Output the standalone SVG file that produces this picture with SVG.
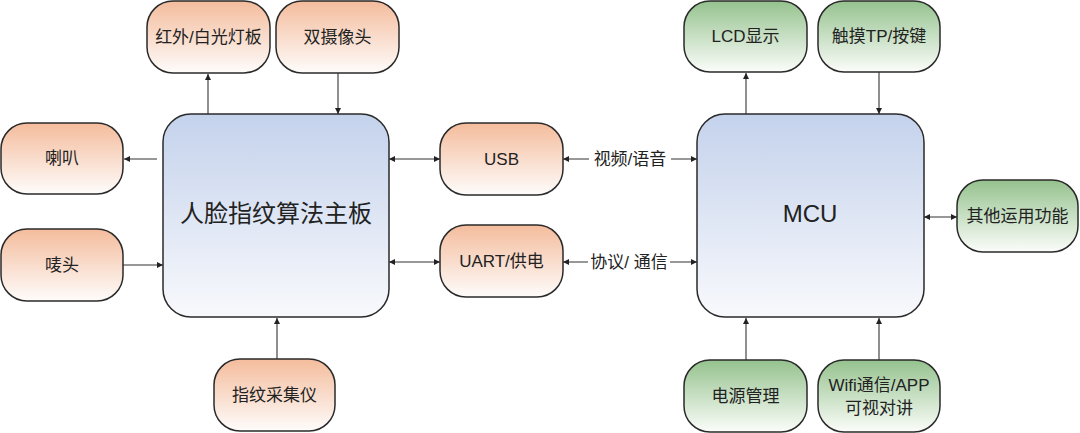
<svg xmlns="http://www.w3.org/2000/svg" width="1080" height="433" viewBox="0 0 1080 433">
<defs>
<linearGradient id="gOrange" x1="0" y1="0" x2="0" y2="1">
<stop offset="0" stop-color="#f4bc9c"/>
<stop offset="1" stop-color="#fefcfb"/>
</linearGradient>
<linearGradient id="gGreen" x1="0" y1="0" x2="0" y2="1">
<stop offset="0" stop-color="#95c28e"/>
<stop offset="1" stop-color="#fbfdfa"/>
</linearGradient>
<linearGradient id="gBlue" x1="0" y1="0" x2="0" y2="1">
<stop offset="0" stop-color="#c4d2ec"/>
<stop offset="1" stop-color="#f8f9fc"/>
</linearGradient>
<marker id="arr" viewBox="0 0 10 10" refX="10" refY="5" markerWidth="6" markerHeight="6" markerUnits="userSpaceOnUse" orient="auto-start-reverse">
<path d="M0,0 L10,5 L0,10 z" fill="#222"/>
</marker>
</defs>
<style>
.node{stroke:#2a2a2a;stroke-width:1.5}
.o{fill:url(#gOrange)}
.g{fill:url(#gGreen)}
.b{fill:url(#gBlue)}
text{font-family:"Liberation Sans","Noto Sans CJK SC",sans-serif;fill:#222;text-anchor:middle;dominant-baseline:central}
.t{font-size:17px}
.big{font-size:24px}
.lbl{font-size:17px}
.c{stroke:#333;stroke-width:1.1;fill:none}
.one{marker-end:url(#arr)}
.two{marker-start:url(#arr);marker-end:url(#arr)}
</style>
<rect width="1080" height="433" fill="#ffffff"/>

<g id="main">
<rect class="node b" x="163" y="114" width="226" height="203" rx="28"/>
<text class="big" x="276" y="213">人脸指纹算法主板</text>
</g>
<g id="mcu">
<rect class="node b" x="697" y="114" width="227" height="203" rx="28"/>
<text class="big" x="810" y="213">MCU</text>
</g>

<g id="n-ir"><rect class="node o" x="147" y="1" width="123" height="72" rx="26"/><text class="t" x="208.5" y="37">红外/白光灯板</text></g>
<g id="n-cam"><rect class="node o" x="276" y="1" width="123" height="72" rx="26"/><text class="t" x="337.5" y="37">双摄像头</text></g>
<g id="n-spk"><rect class="node o" x="1" y="123" width="122" height="71" rx="26"/><text class="t" x="62" y="158.5">喇叭</text></g>
<g id="n-mic"><rect class="node o" x="1" y="229" width="122" height="72" rx="26"/><text class="t" x="62" y="265">唛头</text></g>
<g id="n-usb"><rect class="node o" x="440" y="123" width="123" height="72" rx="26"/><text class="t" x="501.5" y="159">USB</text></g>
<g id="n-uart"><rect class="node o" x="440" y="225" width="123" height="72" rx="26"/><text class="t" x="501.5" y="261">UART/供电</text></g>
<g id="n-fp"><rect class="node o" x="214" y="359" width="121" height="72" rx="26"/><text class="t" x="274.5" y="395">指纹采集仪</text></g>

<g id="n-lcd"><rect class="node g" x="684" y="1" width="123" height="71" rx="26"/><text class="t" x="745.5" y="36">LCD显示</text></g>
<g id="n-tp"><rect class="node g" x="818" y="1" width="122" height="71" rx="26"/><text class="t" x="879" y="36">触摸TP/按键</text></g>
<g id="n-other"><rect class="node g" x="957" y="180" width="121" height="72" rx="26"/><text class="t" x="1017.5" y="216">其他运用功能</text></g>
<g id="n-pwr"><rect class="node g" x="684" y="360" width="123" height="72" rx="26"/><text class="t" x="745.5" y="396">电源管理</text></g>
<g id="n-wifi"><rect class="node g" x="818" y="360" width="122" height="72" rx="26"/><text class="t" x="879" y="385">Wifi通信/APP</text><text class="t" x="879" y="408">可视对讲</text></g>

<g id="connectors">
<path class="c one" d="M208,114 V74"/>
<path class="c one" d="M338,73 V114"/>
<path class="c one" d="M157,159 H124"/>
<path class="c one" d="M123,265 H163"/>
<path class="c two" d="M389,159 H440"/>
<path class="c two" d="M389,262 H440"/>
<path class="c two" d="M563,159 H697"/>
<path class="c two" d="M563,262 H697"/>
<path class="c one" d="M746,114 V73"/>
<path class="c one" d="M879,72 V114"/>
<path class="c two" d="M924,217 H957"/>
<path class="c one" d="M746,360 V318"/>
<path class="c one" d="M879,360 V318"/>
<path class="c one" d="M277,359 V318"/>
<rect x="589" y="148" width="82" height="22" fill="#ffffff"/>
<text class="lbl" x="630" y="159">视频/语音</text>
<rect x="588" y="251" width="82" height="22" fill="#ffffff"/>
<text class="lbl" x="629" y="262">协议/ 通信</text>
</g>
</svg>
